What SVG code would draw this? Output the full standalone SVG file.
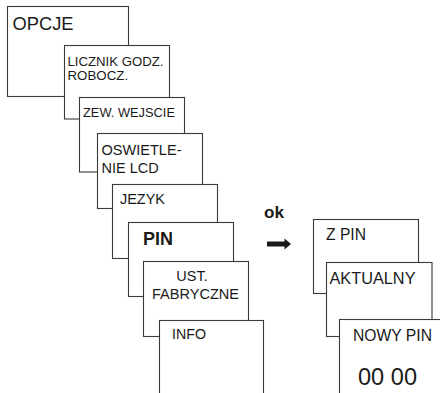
<svg xmlns="http://www.w3.org/2000/svg" width="440" height="393" viewBox="0 0 440 393">
<style>
.b{fill:#fff;stroke:#3a3a3a;stroke-width:1.1}
.t{font-family:"Liberation Sans",Arial,sans-serif;fill:#1a1a1a}
</style>
<rect width="440" height="393" fill="#fff"/>
<g id="opcje"><rect class="b" x="7.5" y="6.5" width="121" height="90"/><text class="t" x="12.5" y="29.5" font-size="18" textLength="61" lengthAdjust="spacingAndGlyphs">OPCJE</text></g>
<g id="licznik"><rect class="b" x="64.5" y="45.5" width="105" height="73.5"/><text class="t" x="67.5" y="66" font-size="13.3" textLength="96" lengthAdjust="spacingAndGlyphs">LICZNIK GODZ.</text><text class="t" x="67.5" y="80" font-size="13.3">ROBOCZ.</text></g>
<g id="zew"><rect class="b" x="79.5" y="97.5" width="105" height="74.5"/><text class="t" x="83" y="116.7" font-size="12.8" textLength="92" lengthAdjust="spacingAndGlyphs">ZEW. WEJSCIE</text></g>
<g id="oswietlenie"><rect class="b" x="97.5" y="133.5" width="105" height="75"/><text class="t" x="101.5" y="155" font-size="14.5" textLength="80" lengthAdjust="spacingAndGlyphs">OSWIETLE-</text><text class="t" x="101.5" y="173" font-size="14.5">NIE LCD</text></g>
<g id="jezyk"><rect class="b" x="112.5" y="184.5" width="105" height="74"/><text class="t" x="120" y="204" font-size="14.5" textLength="45" lengthAdjust="spacingAndGlyphs">JEZYK</text></g>
<g id="pin"><rect class="b" x="128.5" y="222.5" width="105" height="74"/><text class="t" x="143" y="245" font-size="18" font-weight="bold" textLength="30" lengthAdjust="spacingAndGlyphs">PIN</text></g>
<g id="ust"><rect class="b" x="143.5" y="261.5" width="105" height="75"/><text class="t" x="192" y="281" font-size="14.5" text-anchor="middle">UST.</text><text class="t" x="195.5" y="299" font-size="14.5" text-anchor="middle" textLength="87" lengthAdjust="spacingAndGlyphs">FABRYCZNE</text></g>
<g id="info"><rect class="b" x="159.5" y="320.5" width="104" height="80"/><text class="t" x="172" y="339" font-size="14.3" textLength="34" lengthAdjust="spacingAndGlyphs">INFO</text></g>
<g id="ok"><text class="t" x="264" y="217.5" font-size="17" font-weight="bold" textLength="20" lengthAdjust="spacingAndGlyphs">ok</text></g>
<g id="connectors"><path d="M267 241.5H284.5V238.5L291 244L284.5 249.5V246.5H267Z" fill="#1a1a1a"/></g>
<g id="zpin"><rect class="b" x="313.5" y="219.5" width="105" height="74"/><text class="t" x="326" y="240" font-size="15.6" textLength="40" lengthAdjust="spacingAndGlyphs">Z PIN</text></g>
<g id="aktualny"><rect class="b" x="326.5" y="262.5" width="105.5" height="74"/><text class="t" x="329.5" y="284" font-size="16.4" textLength="86" lengthAdjust="spacingAndGlyphs">AKTUALNY</text></g>
<g id="nowypin"><rect class="b" x="339.5" y="319.5" width="110" height="80"/><text class="t" x="353" y="341" font-size="15.6" textLength="79" lengthAdjust="spacingAndGlyphs">NOWY PIN</text><text class="t" x="358" y="385" font-size="23.5" textLength="59" lengthAdjust="spacingAndGlyphs">00 00</text></g>
</svg>
